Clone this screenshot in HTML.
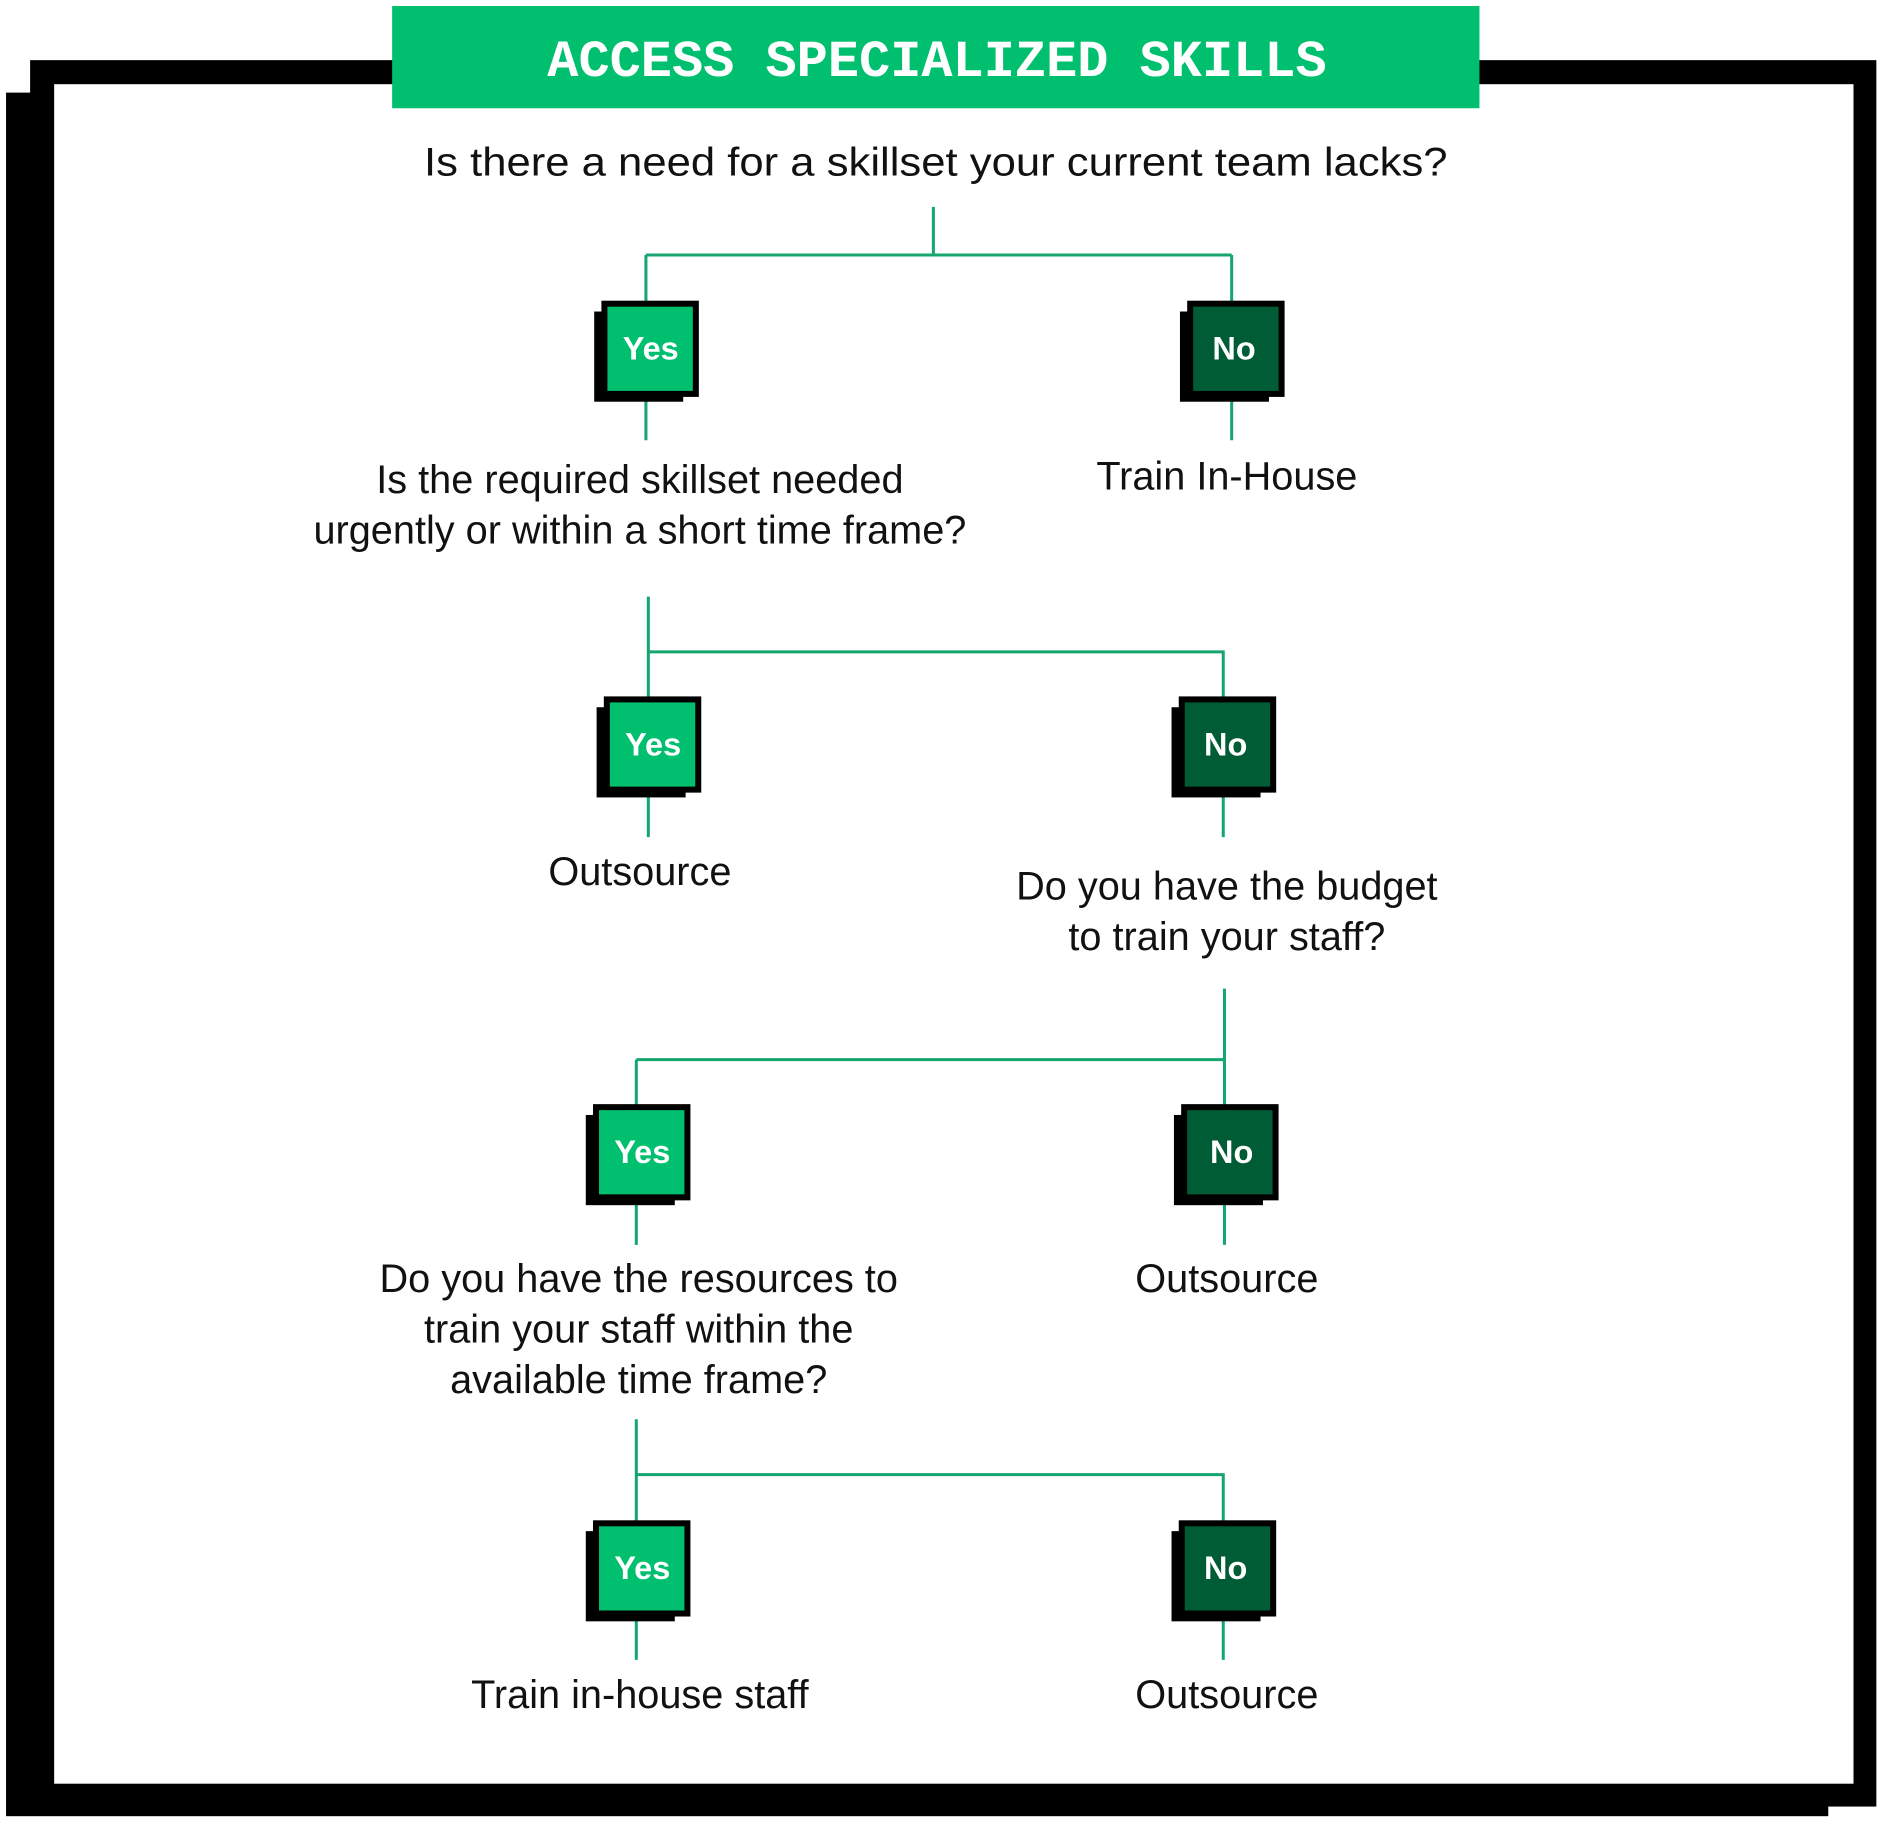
<!DOCTYPE html>
<html><head><meta charset="utf-8"><style>
html,body{margin:0;padding:0;background:#fff;}
svg{display:block;}
.t{font-family:"Liberation Sans",sans-serif;font-size:33px;fill:#111;text-anchor:middle;}
.b{font-family:"Liberation Sans",sans-serif;font-size:27px;font-weight:bold;fill:#fff;text-anchor:middle;}
</style></head><body>
<svg width="1880" height="1824" viewBox="0 0 1563 1516.5" xmlns="http://www.w3.org/2000/svg">
<rect x="0" y="0" width="1563" height="1516.5" fill="#fff"/>
<rect x="25" y="50" width="1535" height="1452" fill="#000"/>
<rect x="5" y="77" width="1515" height="1433" fill="#000"/>
<rect x="45" y="70" width="1496" height="1413" fill="#fff"/>
<rect x="326" y="5" width="904" height="85" fill="#00bf6f"/>
<text x="779" y="63" font-family="Liberation Mono, monospace" font-size="43" font-weight="bold" fill="#fff" text-anchor="middle" textLength="648" lengthAdjust="spacingAndGlyphs">ACCESS SPECIALIZED SKILLS</text>

<g stroke="#14a66e" stroke-width="2.5" fill="none">
<path d="M776 172V212M537 212H1024M537 212V252M1024 212V252M537 330V366M1024 330V366"/>
<path d="M539 496V580M539 542H1017V580M539 660V696M1017 660V696"/>
<path d="M1018 822V919M529 881H1018M529 881V919M529 998V1035M1018 998V1035"/>
<path d="M529 1180V1265M529 1226H1017V1265M529 1345V1380M1017 1345V1380"/>
</g>

<g id="boxes">
<rect x="494" y="259" width="74" height="75" fill="#000"/><rect x="500" y="250" width="81" height="80" fill="#000"/><rect x="505" y="255" width="71" height="70" fill="#00bf6f"/>
<text class="b" x="541" y="299">Yes</text>
<rect x="981" y="259" width="74" height="75" fill="#000"/><rect x="987" y="250" width="81" height="80" fill="#000"/><rect x="992" y="255" width="71" height="70" fill="#005c35"/>
<text class="b" x="1026" y="299">No</text>
<rect x="496" y="588" width="74" height="75" fill="#000"/><rect x="502" y="579" width="81" height="80" fill="#000"/><rect x="507" y="584" width="71" height="70" fill="#00bf6f"/>
<text class="b" x="543" y="628">Yes</text>
<rect x="974" y="588" width="74" height="75" fill="#000"/><rect x="980" y="579" width="81" height="80" fill="#000"/><rect x="985" y="584" width="71" height="70" fill="#005c35"/>
<text class="b" x="1019" y="628">No</text>
<rect x="487" y="927" width="74" height="75" fill="#000"/><rect x="493" y="918" width="81" height="80" fill="#000"/><rect x="498" y="923" width="71" height="70" fill="#00bf6f"/>
<text class="b" x="534" y="967">Yes</text>
<rect x="976" y="927" width="74" height="75" fill="#000"/><rect x="982" y="918" width="81" height="80" fill="#000"/><rect x="987" y="923" width="71" height="70" fill="#005c35"/>
<text class="b" x="1024" y="967">No</text>
<rect x="487" y="1273" width="74" height="75" fill="#000"/><rect x="493" y="1264" width="81" height="80" fill="#000"/><rect x="498" y="1269" width="71" height="70" fill="#00bf6f"/>
<text class="b" x="534" y="1313">Yes</text>
<rect x="974" y="1273" width="74" height="75" fill="#000"/><rect x="980" y="1264" width="81" height="80" fill="#000"/><rect x="985" y="1269" width="71" height="70" fill="#005c35"/>
<text class="b" x="1019" y="1313">No</text>
</g>

<text class="t" x="778" y="146" textLength="851" lengthAdjust="spacingAndGlyphs">Is there a need for a skillset your current team lacks?</text>
<text class="t" x="532" y="410">Is the required skillset needed</text>
<text class="t" x="532" y="452">urgently or within a short time frame?</text>
<text class="t" x="1020" y="407">Train In-House</text>
<text class="t" x="532" y="736">Outsource</text>
<text class="t" x="1020" y="748">Do you have the budget</text>
<text class="t" x="1020" y="790">to train your staff?</text>
<text class="t" x="531" y="1074">Do you have the resources to</text>
<text class="t" x="531" y="1116">train your staff within the</text>
<text class="t" x="531" y="1158">available time frame?</text>
<text class="t" x="1020" y="1074">Outsource</text>
<text class="t" x="532" y="1420">Train in-house staff</text>
<text class="t" x="1020" y="1420">Outsource</text>
</svg>
</body></html>
